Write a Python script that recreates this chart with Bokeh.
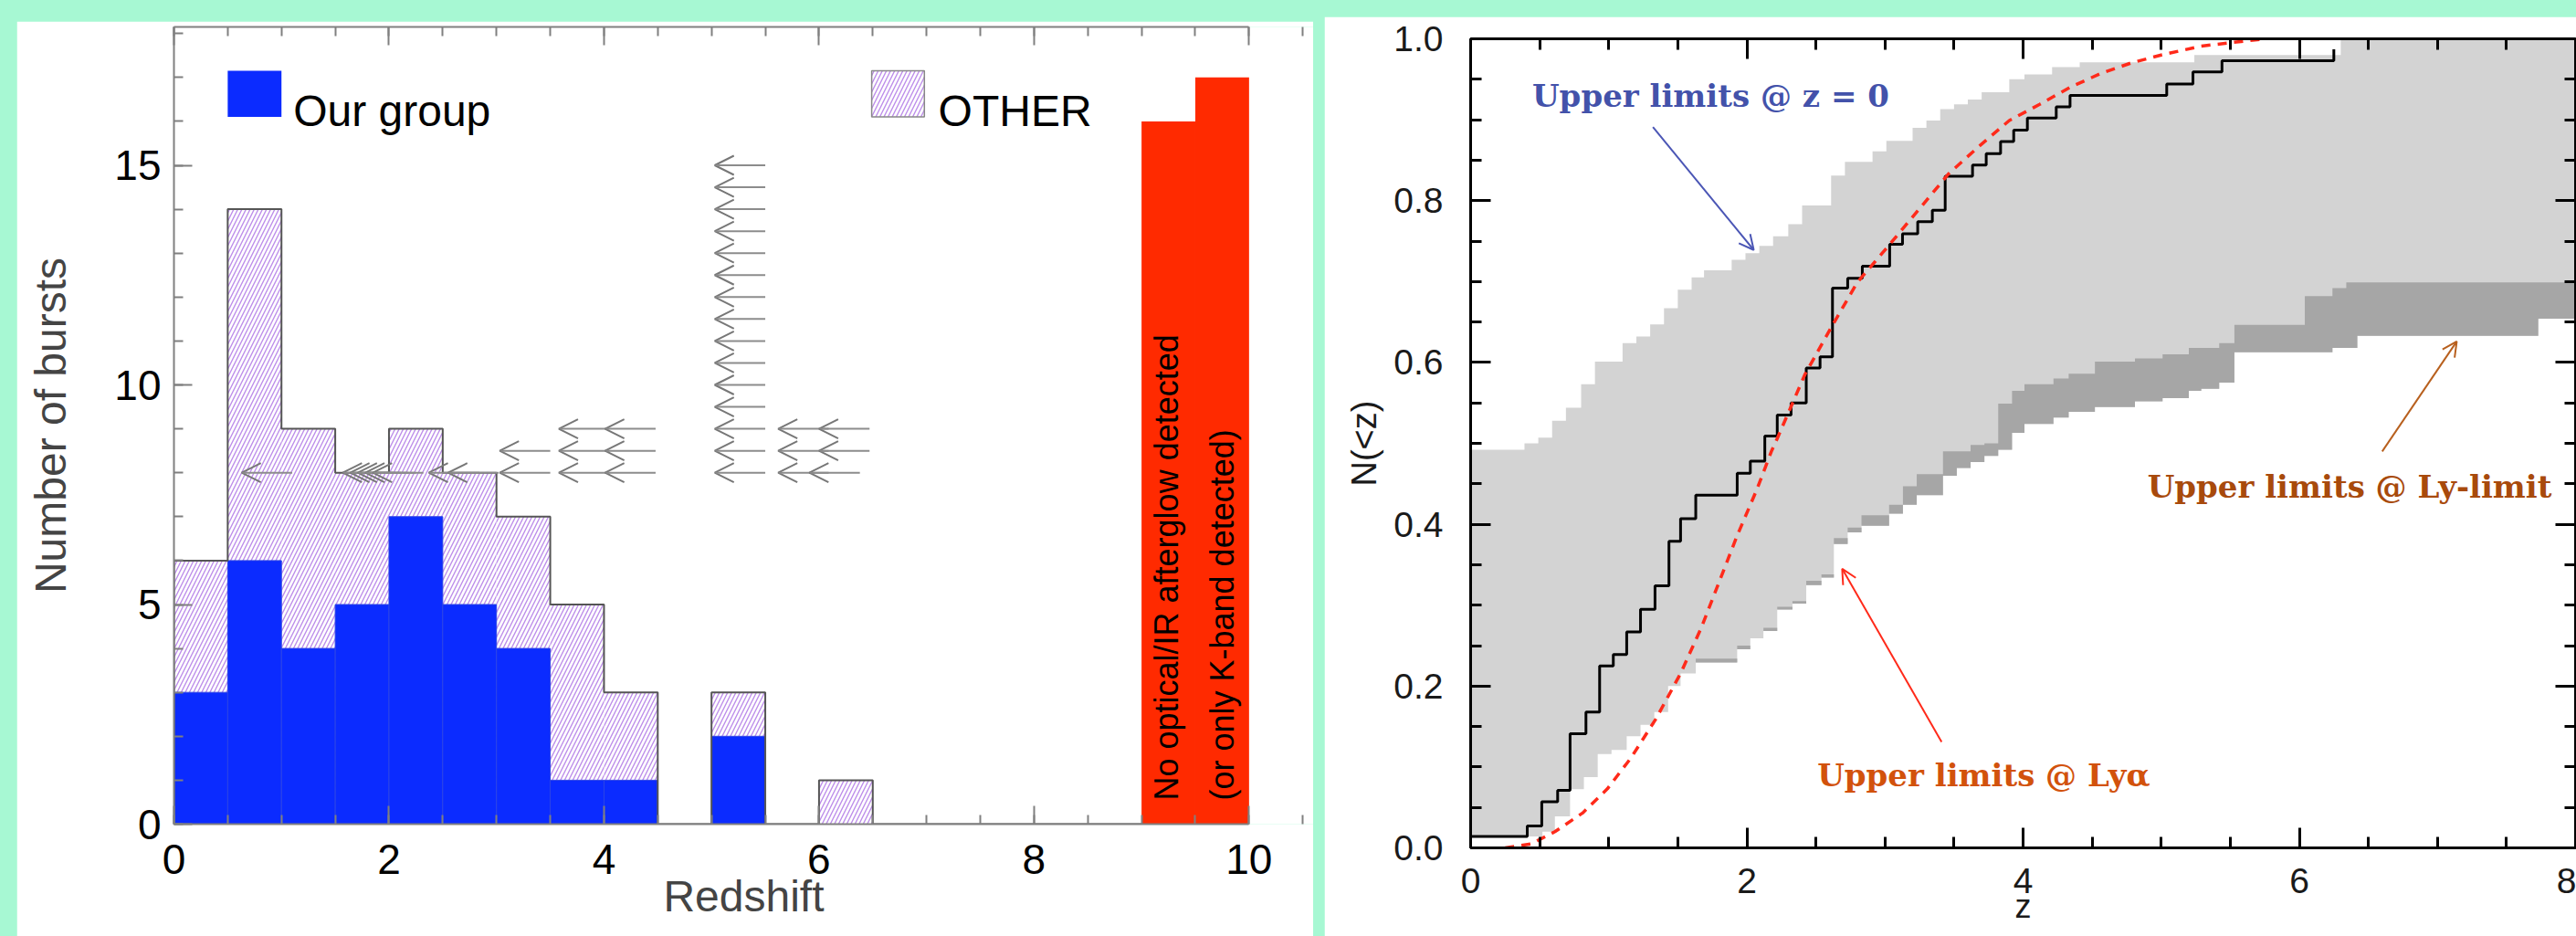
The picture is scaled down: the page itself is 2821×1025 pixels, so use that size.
import math
from bokeh.plotting import figure
from bokeh.models import (Range1d, LinearAxis, FixedTicker, PrintfTickFormatter,
                          Arrow, OpenHead, ColumnDataSource, Label)
from bokeh.layouts import row
from bokeh.embed import file_html
from bokeh.resources import INLINE

# ---------------- data: left panel (histogram of redshifts) ----------------
bin_left = [0.0, 0.5, 1.0, 1.5, 2.0, 2.5, 3.0, 3.5, 4.0, 4.5, 5.0, 5.5, 6.0, 6.5, 7.0, 7.5, 8.0, 8.5]
our_group = [3, 6, 4, 5, 7, 5, 4, 1, 1, 0, 2, 0, 0, 0, 0, 0, 0, 0]
all_bursts = [6, 14, 9, 8, 9, 8, 7, 5, 3, 0, 3, 0, 1, 0, 0, 0, 0, 0]
nodet_left = [9.0, 9.5]
nodet_counts = [16, 17]
BIN_W = 0.5

# upper limits (arrow tail = limit redshift, row = stacking height)
ul_z = [1.10, 2.04, 2.11, 2.18, 2.25, 2.32, 2.84, 3.02, 3.50, 4.05, 4.48, 5.50, 6.09, 6.38,
        3.50, 4.05, 4.48, 5.50, 6.09, 6.47,
        4.05, 4.48, 5.50, 6.09, 6.47,
        5.50, 5.50, 5.50, 5.50, 5.50, 5.50, 5.50, 5.50, 5.50, 5.50, 5.50, 5.50]
ul_row = [8.0, 8.0, 8.0, 8.0, 8.0, 8.0, 8.0, 8.0, 8.0, 8.0, 8.0, 8.0, 8.0, 8.0,
          8.5, 8.5, 8.5, 8.5, 8.5, 8.5,
          9.0, 9.0, 9.0, 9.0, 9.0,
          9.5, 10.0, 10.5, 11.0, 11.5, 12.0, 12.5, 13.0, 13.5, 14.0, 14.5, 15.0]
ARROW_LEN = 0.47

# ---------------- data: right panel (cumulative distributions) ----------------
cdf_z = [0.0, 0.41, 0.515, 0.63, 0.72, 0.835, 0.934, 1.033, 1.13, 1.23, 1.335, 1.436, 1.52,
         1.63, 1.93, 2.025, 2.13, 2.22, 2.32, 2.43, 2.53, 2.62, 2.73, 2.836, 3.034, 3.127,
         3.237, 3.343, 3.436, 3.634, 3.733, 3.837, 3.932, 4.031, 4.24, 4.34, 5.04, 5.23, 5.44, 6.25]
cdf_n = [0.014, 0.027, 0.057, 0.071, 0.141, 0.168, 0.225, 0.239, 0.267, 0.295, 0.324, 0.379, 0.407,
         0.436, 0.463, 0.478, 0.509, 0.535, 0.550, 0.593, 0.607, 0.692, 0.704, 0.719, 0.746, 0.759,
         0.774, 0.788, 0.830, 0.844, 0.858, 0.873, 0.887, 0.902, 0.916, 0.930, 0.944, 0.959, 0.973, 0.987]

up_z = [0.0, 0.39, 0.49, 0.59, 0.69, 0.80, 0.90, 1.10, 1.20, 1.30, 1.40, 1.50, 1.60, 1.69, 1.89,
        1.99, 2.09, 2.19, 2.30, 2.40, 2.61, 2.71, 2.91, 3.01, 3.20, 3.30, 3.40, 3.50, 3.60, 3.70,
        3.90, 4.01, 4.21, 4.41, 5.24, 6.30, 8.0]
up_n = [0.492, 0.500, 0.507, 0.528, 0.544, 0.573, 0.601, 0.624, 0.632, 0.647, 0.667, 0.690, 0.705,
        0.714, 0.727, 0.735, 0.744, 0.756, 0.771, 0.794, 0.831, 0.848, 0.861, 0.874, 0.890, 0.899,
        0.913, 0.919, 0.925, 0.934, 0.950, 0.956, 0.965, 0.971, 0.980, 1.000, 1.000]

lo_z = [0.0, 0.52, 0.61, 0.72, 0.82, 0.92, 1.02, 1.13, 1.23, 1.33, 1.43, 1.52, 1.63, 1.93, 2.025,
        2.12, 2.22, 2.33, 2.43, 2.54, 2.63, 2.73, 2.83, 3.03, 3.13, 3.23, 3.42, 3.52, 3.62, 3.72,
        3.82, 3.92, 4.01, 4.22, 4.33, 4.52, 4.81, 5.01, 5.20, 5.29, 5.42, 5.53, 6.04, 6.24, 6.34,
        6.42, 7.73, 8.0]
lya_n = [0.014, 0.020, 0.039, 0.0725, 0.0875, 0.116, 0.121, 0.138, 0.152, 0.168, 0.200, 0.2155,
         0.234, 0.250, 0.259, 0.272, 0.298, 0.305, 0.330, 0.338, 0.383, 0.396, 0.411, 0.424, 0.447,
         0.462, 0.490, 0.490, 0.498, 0.500, 0.549, 0.565, 0.573, 0.580, 0.586, 0.601, 0.605, 0.610,
         0.618, 0.618, 0.624, 0.6465, 0.682, 0.692, 0.699, 0.699, 0.699, 0.699]
lyl_n = [0.014, 0.020, 0.039, 0.0725, 0.0875, 0.116, 0.121, 0.138, 0.152, 0.168, 0.200, 0.2155,
         0.229, 0.2456, 0.259, 0.268, 0.2945, 0.302, 0.3247, 0.334, 0.3755, 0.390, 0.398, 0.413,
         0.424, 0.436, 0.460, 0.4696, 0.477, 0.4846, 0.492, 0.513, 0.524, 0.532, 0.539, 0.545, 0.552,
         0.556, 0.565, 0.5675, 0.575, 0.6126, 0.6126, 0.618, 0.618, 0.633, 0.654, 0.654]

model_z = [0.25, 0.44, 0.61, 0.81, 0.99, 1.16, 1.34, 1.52, 1.67, 1.80, 1.93, 2.07, 2.18, 2.22, 2.42,
           2.62, 2.80, 3.02, 3.24, 3.46, 3.68, 3.90, 4.12, 4.34, 4.56, 4.78, 5.00, 5.29, 5.75]
model_n = [0.0, 0.005, 0.020, 0.043, 0.073, 0.111, 0.159, 0.2155, 0.272, 0.329, 0.386, 0.442, 0.491,
           0.506, 0.585, 0.646, 0.699, 0.743, 0.788, 0.833, 0.867, 0.899, 0.919, 0.940, 0.957, 0.970,
           0.980, 0.991, 1.0]

BG = "#A7F8D3"
SANS = "Liberation Sans"
SERIF = "DejaVu Serif"
HATCH = dict(hatch_pattern="/", hatch_color="#BD8EEA", hatch_weight=1.4, hatch_scale=9)


def style_axis(ax, color, lw, tin, tmin, font=SANS, fsize="30px", labels=True):
    ax.axis_line_color = color
    ax.axis_line_width = lw
    ax.major_tick_line_color = color
    ax.major_tick_line_width = lw
    ax.minor_tick_line_color = color
    ax.minor_tick_line_width = lw
    ax.major_tick_in = tin
    ax.major_tick_out = 0
    ax.minor_tick_in = tmin
    ax.minor_tick_out = 0
    ax.major_label_text_font = font
    ax.major_label_text_font_size = fsize
    ax.axis_label_text_font = font
    ax.axis_label_text_font_style = "normal"
    if labels:
        ax.major_label_text_color = "black"
    else:
        ax.major_label_text_color = None
        ax.major_label_standoff = 0


# ======================= LEFT PANEL =======================
p1 = figure(width=1420, height=1002, x_range=Range1d(0, 10.6), y_range=Range1d(0, 18.15),
            x_axis_type=None, y_axis_type=None, output_backend="svg", toolbar_location=None,
            min_border_left=172, min_border_right=0, min_border_top=6, min_border_bottom=123)
p1.frame_align = False
p1.outline_line_color = None
p1.background_fill_color = "white"
p1.border_fill_color = "white"
p1.margin = (23, 0, 0, 18)

GRAY_AX = "#808080"
xt1 = FixedTicker(ticks=[0, 2, 4, 6, 8, 10], minor_ticks=[i * 0.5 for i in range(22)])
yt1 = FixedTicker(ticks=[0, 5, 10, 15], minor_ticks=list(range(19)))

xb1 = LinearAxis(ticker=xt1, bounds=(0, 10), axis_label="Redshift")
style_axis(xb1, GRAY_AX, 2, 20, 10, SANS, "46px")
xb1.major_label_standoff = 22
xb1.axis_label_standoff = -5
xb1.axis_label_text_font_size = "48px"
p1.add_layout(xb1, "below")

yl1 = LinearAxis(ticker=yt1, axis_label="Number of bursts")
style_axis(yl1, GRAY_AX, 2, 20, 10, SANS, "46px")
yl1.major_label_standoff = 14
yl1.axis_label_standoff = 40
yl1.axis_label_text_font_size = "48px"
p1.add_layout(yl1, "left")

xa1 = LinearAxis(ticker=xt1, bounds=(0, 10))
style_axis(xa1, GRAY_AX, 2, 20, 10, labels=False)
p1.add_layout(xa1, "above")

right_edge = [b + BIN_W for b in bin_left]
# hatched "OTHER" (all bursts) histogram
p1.quad(left=bin_left, right=right_edge, bottom=0, top=all_bursts, fill_color="white",
        line_color=None, **HATCH)
# our group
p1.quad(left=bin_left, right=right_edge, bottom=0, top=our_group, fill_color="#0B2BFF",
        line_color="#2C44E6", line_width=1)
# outline of the total histogram
step_x = [bin_left[0]] + bin_left + [bin_left[-1] + BIN_W]
step_y = [0] + all_bursts + [0]
p1.step(step_x, step_y, mode="after", line_color="#555555", line_width=2)
# no afterglow detected
p1.quad(left=nodet_left, right=[b + BIN_W for b in nodet_left], bottom=0, top=nodet_counts,
        fill_color="#FF2A00", line_color=None)

# upper limit arrows
ul_src = ColumnDataSource(dict(xs=ul_z, xe=[z - ARROW_LEN for z in ul_z], y=ul_row))
p1.add_layout(Arrow(x_start="xs", y_start="y", x_end="xe", y_end="y", source=ul_src,
                    line_color="#8c8c8c", line_width=2,
                    end=OpenHead(size=21, line_color="#777777", line_width=2)))

# legend
p1.quad(left=[0.5], right=[1.0], bottom=[16.1], top=[17.15], fill_color="#0B2BFF", line_color=None)
p1.quad(left=[6.49], right=[6.98], bottom=[16.1], top=[17.15], fill_color="white",
        line_color="#888888", line_width=1.5, **HATCH)
p1.add_layout(Label(x=1.11, y=16.23, text="Our group", text_font=SANS, text_font_size="48px",
                    text_color="black", text_baseline="alphabetic"))
p1.add_layout(Label(x=7.11, y=16.23, text="OTHER", text_font=SANS, text_font_size="48px",
                    text_color="black", text_baseline="alphabetic"))

# rotated text in red bar
p1.add_layout(Label(x=9.23, y=0.54, text="No optical/IR afterglow detected", angle=math.pi / 2,
                    text_font=SANS, text_font_size="36px", text_color="black",
                    text_align="left", text_baseline="middle"))
p1.add_layout(Label(x=9.75, y=0.54, text="(or only K-band detected)", angle=math.pi / 2,
                    text_font=SANS, text_font_size="36px", text_color="black",
                    text_align="left", text_baseline="middle"))

# ======================= RIGHT PANEL =======================
p2 = figure(width=1371, height=1007, x_range=Range1d(0, 8), y_range=Range1d(0, 1),
            x_axis_type=None, y_axis_type=None, output_backend="svg", toolbar_location=None,
            min_border_left=160, min_border_right=1, min_border_top=24, min_border_bottom=97)
p2.frame_align = False
p2.outline_line_color = None
p2.background_fill_color = "white"
p2.border_fill_color = "white"
p2.margin = (18, 0, 0, 12)

xt2 = FixedTicker(ticks=[0, 2, 4, 6, 8], minor_ticks=[i * 0.5 for i in range(17)])
yt2 = FixedTicker(ticks=[0, 0.2, 0.4, 0.6, 0.8, 1.0], minor_ticks=[i * 0.05 for i in range(21)])


def step_vertices(xs, ys, x_end):
    pts_x, pts_y = [], []
    for i in range(len(xs)):
        x0 = xs[i]
        x1 = xs[i + 1] if i + 1 < len(xs) else x_end
        pts_x += [x0, x1]
        pts_y += [ys[i], ys[i]]
    return pts_x, pts_y


ux, uy = step_vertices(up_z, up_n, 8.0)
lx, ly = step_vertices(lo_z, lyl_n, 8.0)
ax_, ay_ = step_vertices(lo_z, lya_n, 8.0)
p2.patch(ux + lx[::-1], uy + ly[::-1], fill_color="#D3D3D3", line_color=None)
p2.patch(ax_ + lx[::-1], ay_ + ly[::-1], fill_color="#A6A6A6", line_color=None)

p2.step(cdf_z, cdf_n, mode="after", line_color="black", line_width=3)
p2.line(model_z, model_n, line_color="#FF2A1A", line_width=3.5, line_dash="10 8")

for loc in ("below", "left", "above", "right"):
    tk = xt2 if loc in ("below", "above") else yt2
    ax = LinearAxis(ticker=tk)
    shown = loc in ("below", "left")
    style_axis(ax, "black", 3, 22, 12, SANS, "39px", labels=shown)
    ax.axis_label_text_color = "#1a1a1a"
    if shown:
        ax.major_label_text_color = "#1a1a1a"
    if loc == "left":
        ax.formatter = PrintfTickFormatter(format="%.1f")
        ax.axis_label = "N(<z)"
        ax.axis_label_text_font_size = "38px"
        ax.major_label_standoff = 30
        ax.axis_label_standoff = 8
    elif loc == "below":
        ax.axis_label = "z"
        ax.axis_label_text_font_size = "36px"
        ax.major_label_standoff = 22
        ax.axis_label_standoff = -9
    p2.add_layout(ax, loc)

# annotations
p2.add_layout(Label(x=0.446, y=0.930, text="Upper limits @ z = 0", text_font=SERIF,
                    text_font_style="bold", text_font_size="34px", text_color="#4352AA",
                    text_baseline="alphabetic"))
p2.add_layout(Label(x=2.51, y=0.0898, text="Upper limits @ Lyα", text_font=SERIF,
                    text_font_style="bold", text_font_size="34px", text_color="#D2520C",
                    text_baseline="alphabetic"))
p2.add_layout(Label(x=4.90, y=0.4466, text="Upper limits @ Ly-limit", text_font=SERIF,
                    text_font_style="bold", text_font_size="34px", text_color="#A84A0C",
                    text_baseline="alphabetic"))

for (xs, ys, xe, ye, c) in [(1.32, 0.891, 2.05, 0.739, "#4B56B5"),
                             (3.41, 0.131, 2.69, 0.345, "#FF2A1A"),
                             (6.60, 0.490, 7.14, 0.626, "#B8601E")]:
    p2.add_layout(Arrow(x_start=xs, y_start=ys, x_end=xe, y_end=ye, line_color=c, line_width=2,
                        end=OpenHead(size=16, line_color=c, line_width=2)))

layout = row(p1, p2, styles={"background-color": BG})
open("out.html", "w").write(file_html(layout, INLINE))
